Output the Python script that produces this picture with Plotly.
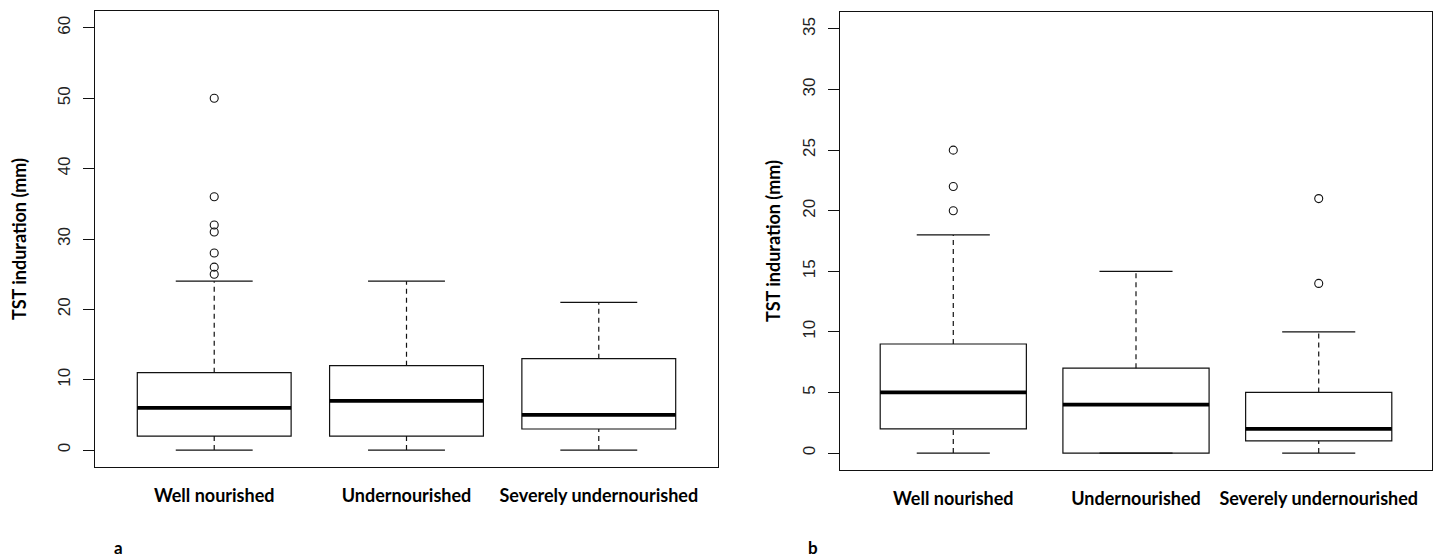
import plotly.graph_objects as go

# ---------------- data ----------------
categories = ["Well nourished", "Undernourished", "Severely undernourished"]
positions = [1, 2, 3]

# panel a
a_min = [0, 0, 0]
a_q1 = [2, 2, 3]
a_med = [6, 7, 5]
a_q3 = [11, 12, 13]
a_max = [24, 24, 21]
a_outliers = [[25, 26, 28, 31, 32, 36, 50], [], []]
a_ticks = [0, 10, 20, 30, 40, 50, 60]

# panel b
b_min = [0, 0, 0]
b_q1 = [2, 0, 1]
b_med = [5, 4, 2]
b_q3 = [9, 7, 5]
b_max = [18, 15, 10]
b_outliers = [[20, 22, 25], [], [14, 21]]
b_ticks = [0, 5, 10, 15, 20, 25, 30, 35]

y_title = "TST induration (mm)"

# ---------------- style ----------------
BOXW = 0.8
STAPLE = 0.2
INK = "#111111"
TICKFONT = dict(family="Liberation Sans, Arial, sans-serif", size=17, color="#222222")
LABFONT = dict(family="Lato, Calibri, sans-serif", size=18, color="#000000", weight="bold")

fig = go.Figure()


def add_panel(xa, ya, mins, q1, med, q3, maxs, outs):
    fig.add_trace(go.Box(
        x=positions, q1=q1, median=med, q3=q3, lowerfence=q1, upperfence=q3,
        width=BOXW, fillcolor="white", line=dict(color=INK, width=1.2),
        boxpoints=False, hoverinfo="skip", xaxis=xa, yaxis=ya, showlegend=False,
    ))
    # dashed whiskers
    wx, wy = [], []
    for p, lo, a, b, hi in zip(positions, mins, q1, q3, maxs):
        wx += [p, p, None, p, p, None]
        wy += [b, hi, None, lo, a, None]
    fig.add_trace(go.Scatter(x=wx, y=wy, mode="lines", xaxis=xa, yaxis=ya,
                             line=dict(color=INK, width=1.2, dash="5px,4px"),
                             showlegend=False, hoverinfo="skip"))
    # staples
    sx, sy = [], []
    for p, lo, hi in zip(positions, mins, maxs):
        sx += [p - STAPLE, p + STAPLE, None, p - STAPLE, p + STAPLE, None]
        sy += [hi, hi, None, lo, lo, None]
    fig.add_trace(go.Scatter(x=sx, y=sy, mode="lines", xaxis=xa, yaxis=ya,
                             line=dict(color=INK, width=1.2),
                             showlegend=False, hoverinfo="skip"))
    # medians
    mx, my = [], []
    for p, m in zip(positions, med):
        mx += [p - BOXW / 2, p + BOXW / 2, None]
        my += [m, m, None]
    fig.add_trace(go.Scatter(x=mx, y=my, mode="lines", xaxis=xa, yaxis=ya,
                             line=dict(color="#000000", width=3.8),
                             showlegend=False, hoverinfo="skip"))
    # outliers
    ox, oy = [], []
    for p, o in zip(positions, outs):
        ox += [p] * len(o)
        oy += o
    fig.add_trace(go.Scatter(x=ox, y=oy, mode="markers", xaxis=xa, yaxis=ya,
                             marker=dict(symbol="circle-open", size=8,
                                         color=INK, line=dict(width=1.1)),
                             showlegend=False, hoverinfo="skip"))


add_panel("x", "y", a_min, a_q1, a_med, a_q3, a_max, a_outliers)
add_panel("x2", "y2", b_min, b_q1, b_med, b_q3, b_max, b_outliers)

W, H = 1434, 557


def xax(l, r):
    return dict(domain=[l / W, r / W], range=[0.38, 3.62], tickmode="array",
                tickvals=positions, ticktext=categories, ticks="",
                showline=True, mirror=True, linecolor=INK, linewidth=1.2,
                showgrid=False, zeroline=False, tickfont=LABFONT,
                ticklabelstandoff=12, automargin=False)


def yax(t, b, rng, ticks, anchor, standoff):
    return dict(domain=[(H - b) / H, (H - t) / H], range=rng, tickmode="array",
                tickvals=ticks, ticks="outside", ticklen=11, tickcolor=INK,
                tickwidth=1.2, tickangle=-90, showline=True, mirror=True,
                linecolor=INK, linewidth=1.2, showgrid=False, zeroline=False,
                tickfont=TICKFONT, anchor=anchor, ticklabelstandoff=6,
                automargin=False,
                title=dict(text=y_title, font=LABFONT, standoff=standoff))


fig.update_layout(
    width=W, height=H, margin=dict(l=0, r=0, t=0, b=0, autoexpand=False),
    paper_bgcolor="white", plot_bgcolor="white",
    xaxis=dict(xax(95, 718), anchor="y"),
    xaxis2=dict(xax(840, 1432), anchor="y2"),
    yaxis=yax(11, 467, [-2.4, 62.4], a_ticks, "x", 23),
    yaxis2=yax(12, 470, [-1.4, 36.4], b_ticks, "x2", 14),
    annotations=[
        dict(text="<b>a</b>", x=118 / W, y=(H - 547) / H, xref="paper", yref="paper",
             xanchor="center", yanchor="middle", showarrow=False,
             font=dict(family="Lato, sans-serif", size=17, color="black")),
        dict(text="<b>b</b>", x=813 / W, y=(H - 547) / H, xref="paper", yref="paper",
             xanchor="center", yanchor="middle", showarrow=False,
             font=dict(family="Lato, sans-serif", size=17, color="black")),
    ],
)

fig.write_html(
    "out.html",
    config={"displayModeBar": False},
    post_script="document.body.style.margin='0';document.body.style.overflow='hidden';",
)
